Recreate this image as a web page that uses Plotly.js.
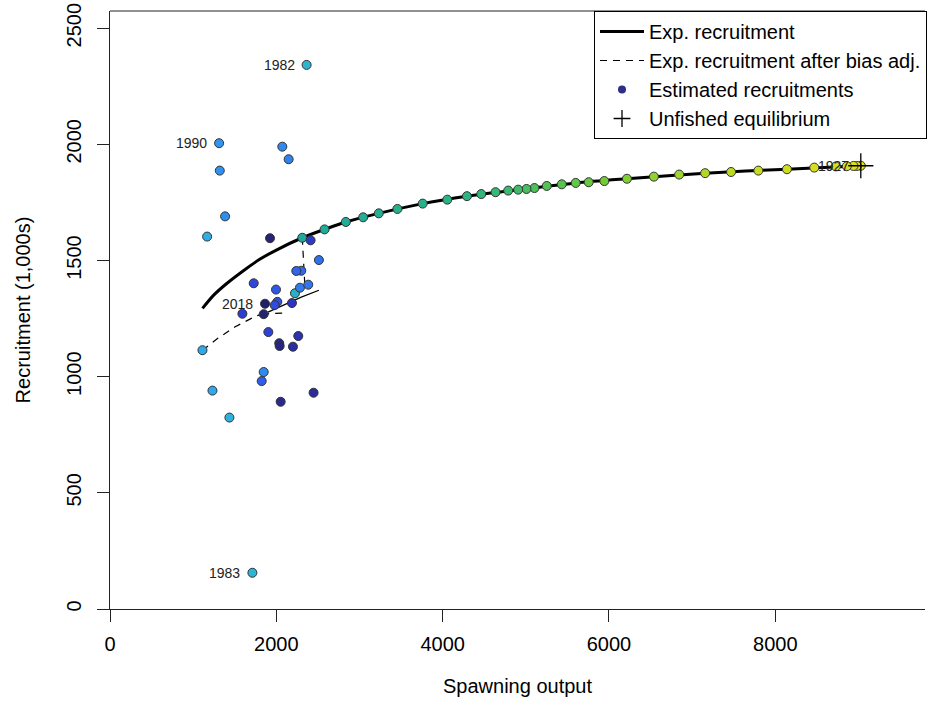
<!DOCTYPE html>
<html>
<head>
<meta charset="utf-8">
<script src="https://cdn.plot.ly/plotly-3.0.1.min.js"></script>
<style>
  html, body { margin: 0; padding: 0; background: #ffffff; }
  #chart { width: 927px; height: 704px; }
</style>
</head>
<body>
<div id="chart"></div>
<script>
// ---------- data ----------
// Expected recruitment curve (spawning output vs expected recruitment)
const curveSpawn = [1112, 1250, 1400, 1600, 1800, 2000, 2312, 2580, 2836, 3232, 3760, 4292, 4908, 5600, 6216, 7156, 8140, 9028];
const curveRecr  = [1294, 1352, 1400, 1455, 1505, 1545, 1598, 1634, 1666, 1703, 1745, 1777, 1805, 1834, 1852, 1876, 1893, 1908];

// Expected recruitment after bias adjustment (visible dashed pieces)
const biasDropSpawn = [2312, 2328, 2344];
const biasDropRecr  = [1598, 1490, 1387];
const biasLowSpawn  = [1112, 1300, 1500, 1760, 1900];
const biasLowRecr   = [1114, 1166, 1214, 1262, 1276];
const biasFlatSpawn = [1830, 2090];
const biasFlatRecr  = [1270, 1274];
// overlapping stretch of the bias-adjusted line (looks solid)
const biasOverSpawn = [1900, 2100, 2300, 2512];
const biasOverRecr  = [1278, 1310, 1342, 1372];

// Estimated recruitments by year
const years = [
  1927, 1928, 1929, 1930, 1931, 1932, 1933, 1934, 1935, 1936, 1937, 1938, 1939, 1940,
  1941, 1942, 1943, 1944, 1945, 1946, 1947, 1948, 1949, 1950, 1951, 1952, 1953, 1954,
  1955, 1956, 1957, 1958, 1959,
  1978, 1982, 1983, 1985, 1986, 1987, 1988, 1990, 1991, 1992, 1993, 1994, 1995, 1996,
  1997, 1998, 1999, 2000, 2001, 2002, 2003, 2004, 2005, 2006, 2007, 2008, 2009, 2010,
  2011, 2012, 2013, 2014, 2015, 2016, 2017, 2018
];
const spawn = [
  9028, 8980, 8940, 8860, 8728, 8468, 8140, 7796, 7468, 7156, 6844, 6540, 6216, 5944,
  5756, 5600, 5432, 5252, 5104, 5008, 4908, 4788, 4636, 4464, 4292, 4056, 3760, 3456,
  3232, 3044, 2836, 2580, 2312,
  2224, 2364, 1712, 1436, 1168, 1112, 1232, 1312, 1320, 1384, 1848, 2072, 2148, 2284,
  2384, 2512, 2300, 2240, 1824, 1996, 2012, 1980, 1728, 1904, 1592, 2412, 2188, 2264,
  2200, 2448, 2052, 2035, 2040, 1924, 1848, 1864
];
const recr = [
  1908, 1907, 1907, 1906, 1905, 1900, 1893, 1887, 1881, 1876, 1870, 1861, 1852, 1842,
  1837, 1834, 1828, 1821, 1812, 1808, 1805, 1801, 1794, 1786, 1777, 1762, 1745, 1722,
  1703, 1686, 1666, 1634, 1598,
  1359, 2342, 156, 824, 1603, 1114, 940, 2005, 1887, 1690, 1020, 1990, 1936, 1383,
  1396, 1502, 1456, 1455, 981, 1375, 1322, 1308, 1402, 1192, 1271, 1587, 1317, 1175,
  1129, 931, 892, 1144, 1132, 1596, 1269, 1314
];

// Unfished equilibrium
const unfishedSpawn = [9028];
const unfishedRecr  = [1908];

// Years that carry a text label
const labelledYears = [1927, 1982, 1983, 1990, 2018];

// Axis ticks
const xTicks = [0, 2000, 4000, 6000, 8000];
const yTicks = [0, 500, 1000, 1500, 2000, 2500];

// ---------- styling ----------
const FONT = "Liberation Sans, Arial, Helvetica, sans-serif";
const yearColors = [
  [0.000, '#E2E11E'], [0.055, '#D6DE20'], [0.077, '#C8DC22'], [0.099, '#B0D828'],
  [0.121, '#90D230'], [0.143, '#72CC36'], [0.176, '#58C44E'], [0.220, '#40BC68'],
  [0.264, '#2EB480'], [0.308, '#24AE92'], [0.352, '#1EA89E'], [0.527, '#24AEB8'],
  [0.604, '#2EB6D0'], [0.637, '#2EB0E0'], [0.670, '#30A6EC'], [0.692, '#3094F0'],
  [0.736, '#3088F0'], [0.780, '#3070EE'], [0.824, '#3058E6'], [0.868, '#2E42D8'],
  [0.901, '#2C34C0'], [0.934, '#2A2C98'], [0.967, '#262680'], [1.000, '#20206A']
];

const joinSeg = (...parts) => parts.reduce((acc, p, i) => i ? acc.concat([null], p) : acc.concat(p), []);

const traces = [
  { // expected recruitment curve
    x: curveSpawn, y: curveRecr, type: 'scatter', mode: 'lines',
    name: 'Exp. recruitment',
    line: { color: 'black', width: 3, shape: 'spline', smoothing: 0.8 }
  },
  { // bias-adjusted (dashed)
    x: joinSeg(biasDropSpawn, biasLowSpawn, biasFlatSpawn),
    y: joinSeg(biasDropRecr, biasLowRecr, biasFlatRecr),
    type: 'scatter', mode: 'lines', connectgaps: false,
    name: 'Exp. recruitment after bias adj.',
    line: { color: 'black', width: 1.2, dash: '7px,6px' }
  },
  { // overlapping stretch
    x: biasOverSpawn, y: biasOverRecr, type: 'scatter', mode: 'lines',
    showlegend: false, hoverinfo: 'skip',
    line: { color: 'black', width: 1.3 }
  },
  { // estimated recruitments
    x: spawn, y: recr, type: 'scatter', mode: 'markers',
    showlegend: false, text: years,
    marker: {
      symbol: 'circle', size: 9,
      color: years, colorscale: yearColors, cmin: 1927, cmax: 2018,
      showscale: false,
      line: { color: '#333333', width: 1 }
    }
  },
  { // legend entry for points
    x: [null], y: [null], type: 'scatter', mode: 'markers',
    name: 'Estimated recruitments',
    marker: { symbol: 'circle', size: 8, color: '#2E2E86', line: { width: 0 } }
  },
  { // legend entry for unfished equilibrium
    x: [null], y: [null], type: 'scatter', mode: 'markers',
    name: 'Unfished equilibrium',
    marker: { symbol: 'cross-thin', size: 12, color: 'black', line: { color: 'black', width: 1.3 } }
  },
  { // unfished equilibrium
    x: unfishedSpawn, y: unfishedRecr, type: 'scatter', mode: 'markers',
    showlegend: false,
    marker: { symbol: 'cross-thin', size: 18, color: 'black', line: { color: 'black', width: 1.3 } }
  }
];

const annotations = labelledYears.map(yr => {
  const i = years.indexOf(yr);
  return {
    x: spawn[i], y: recr[i], xref: 'x', yref: 'y',
    text: String(yr), showarrow: false,
    xanchor: 'right', yanchor: 'middle', xshift: -10,
    font: { family: FONT, size: 14, color: '#222222' }
  };
});

const layout = {
  width: 927, height: 704,
  margin: { l: 110, r: 0, t: 11, b: 95, pad: 0 },
  paper_bgcolor: '#ffffff', plot_bgcolor: '#ffffff',
  font: { family: FONT, size: 20, color: '#000000' },
  showlegend: true,
  legend: {
    x: 1.003, xanchor: 'right', y: 1, yanchor: 'top',
    bgcolor: '#ffffff', bordercolor: '#000000', borderwidth: 1,
    font: { family: FONT, size: 20, color: '#000000' },
    traceorder: 'normal', itemwidth: 44, tracegroupgap: 0
  },
  xaxis: {
    range: [0, 9800], tickvals: xTicks, ticktext: xTicks.map(String),
    showgrid: false, zeroline: false,
    showline: true, linecolor: '#222222', linewidth: 1,
    ticks: 'outside', ticklen: 12, tickwidth: 1, tickcolor: '#222222',
    ticklabelstandoff: 5,
    tickfont: { family: FONT, size: 20, color: '#000000' },
    title: { text: 'Spawning output', font: { family: FONT, size: 20, color: '#000000' }, standoff: 24 }
  },
  yaxis: {
    range: [0, 2574], tickvals: yTicks, ticktext: yTicks.map(String),
    showgrid: false, zeroline: false,
    showline: true, linecolor: '#222222', linewidth: 1,
    ticks: 'outside', ticklen: 12, tickwidth: 1, tickcolor: '#222222',
    tickangle: -90, ticklabelstandoff: 8,
    tickfont: { family: FONT, size: 20, color: '#000000' },
    title: { text: 'Recruitment (1,000s)', font: { family: FONT, size: 20, color: '#000000' }, standoff: 27 }
  },
  shapes: [
    { type: 'line', xref: 'paper', yref: 'paper', x0: 0, x1: 1, y0: 1, y1: 1,
      line: { color: '#222222', width: 1 } }
  ],
  annotations: annotations
};

Plotly.newPlot('chart', traces, layout, { staticPlot: true, displayModeBar: false });
</script>
</body>
</html>
